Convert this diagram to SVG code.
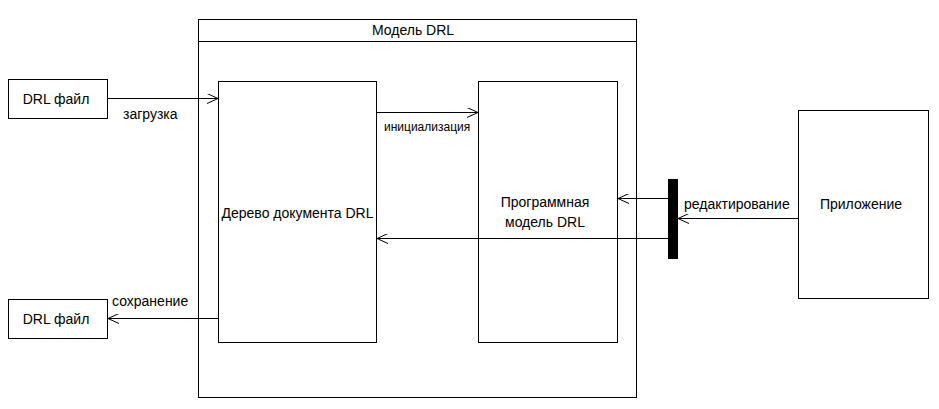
<svg xmlns="http://www.w3.org/2000/svg" width="939" height="409" viewBox="0 0 939 409">
<style>
.box{fill:#fff;stroke:#000;stroke-width:1}
.t{font-family:"Liberation Sans",Arial,sans-serif;font-size:14px;fill:#000}
.s{font-size:12px}
.c{text-anchor:middle}
.ln{stroke:#000;stroke-width:1;fill:none}
</style>
<defs>
<marker id="arr" markerWidth="12" markerHeight="10" refX="11" refY="5" orient="auto" markerUnits="userSpaceOnUse">
<path d="M0,0 L11,5 L0,10" fill="none" stroke="#000" stroke-width="1"/>
</marker>
</defs>
<rect width="939" height="409" fill="#fff"/>
<g id="model">
<rect class="box" x="198.5" y="19.5" width="438" height="378"/>
<line class="ln" x1="198.5" y1="41.5" x2="636.5" y2="41.5"/>
<text class="t c" x="413" y="35">Модель DRL</text>
</g>
<g id="file1">
<rect class="box" x="8.5" y="79.5" width="99" height="39"/>
<text class="t c" x="56" y="104">DRL файл</text>
</g>
<g id="file2">
<rect class="box" x="8.5" y="299.5" width="99" height="39"/>
<text class="t c" x="56" y="324">DRL файл</text>
</g>
<g id="tree">
<rect class="box" x="218.5" y="81.5" width="158" height="261"/>
<text class="t c" x="297.5" y="218">Дерево документа DRL</text>
</g>
<g id="prog">
<rect class="box" x="478.5" y="81.5" width="139" height="261"/>
<text class="t c" x="545" y="207">Программная</text>
<text class="t c" x="545" y="227">модель DRL</text>
</g>
<g id="app">
<rect class="box" x="798.5" y="110.5" width="130" height="188"/>
<text class="t c" x="861" y="209">Приложение</text>
</g>
<g id="bar">
<rect x="668" y="179" width="10" height="80" fill="#000"/>
</g>
<g id="connectors">
<line class="ln" x1="107.5" y1="98.5" x2="218" y2="98.5" marker-end="url(#arr)"/>
<text class="t" x="123" y="119">загрузка</text>
<line class="ln" x1="376.5" y1="112.5" x2="478" y2="112.5" marker-end="url(#arr)"/>
<text class="t s" x="384" y="131">инициализация</text>
<line class="ln" x1="668" y1="198.5" x2="618" y2="198.5" marker-end="url(#arr)"/>
<line class="ln" x1="798.5" y1="218.5" x2="678" y2="218.5" marker-end="url(#arr)"/>
<text class="t" x="684" y="209">редактирование</text>
<line class="ln" x1="668" y1="238.5" x2="377" y2="238.5" marker-end="url(#arr)"/>
<line class="ln" x1="218.5" y1="318.5" x2="108" y2="318.5" marker-end="url(#arr)"/>
<text class="t" x="112" y="306">сохранение</text>
</g>
</svg>
